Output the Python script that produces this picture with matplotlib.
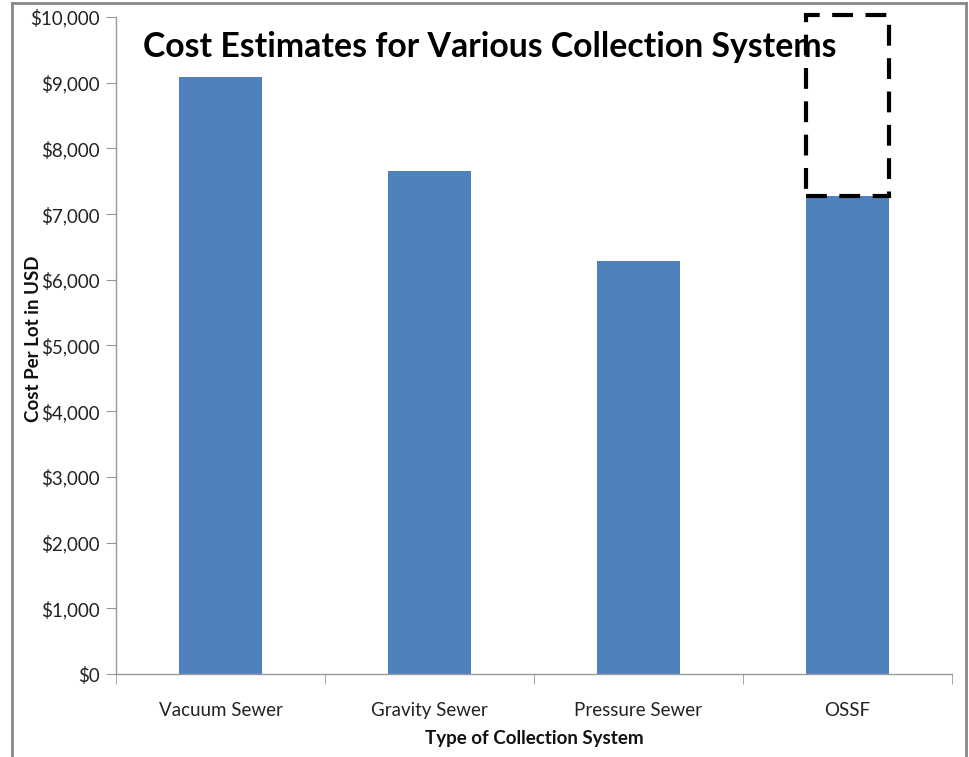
import matplotlib
matplotlib.use("Agg")
import matplotlib.pyplot as plt
from matplotlib.lines import Line2D
from matplotlib.patches import Rectangle
from matplotlib.ticker import FuncFormatter, FixedLocator

plt.rcParams['font.family'] = ['Lato', 'DejaVu Sans']

categories = ["Vacuum Sewer", "Gravity Sewer", "Pressure Sewer", "OSSF"]
costs = [9090, 7650, 6290, 7270]
highlight_top = 10030
title = "Cost Estimates for Various Collection Systems"
xlabel = "Type of Collection System"
ylabel = "Cost Per Lot in USD"

W, H = 969, 757
fig = plt.figure(figsize=(W / 100, H / 100), dpi=100)
ax = fig.add_axes([116 / W, 1 - 674 / H, (952 - 116) / W, (674 - 17) / H])

x = list(range(len(categories)))
bars = ax.bar(x, costs, width=0.4, color="#4F81BD", zorder=2)

ax.set_xlim(-0.5, len(categories) - 0.5)
ax.set_ylim(0, 10000)
ax.yaxis.set_major_locator(FixedLocator(range(0, 10001, 1000)))
ax.yaxis.set_major_formatter(FuncFormatter(lambda v, p: f"${v:,.0f}"))
ax.set_xticks(x)
ax.set_xticklabels(categories)
ax.xaxis.set_minor_locator(FixedLocator([i - 0.5 for i in range(len(categories) + 1)]))
ax.tick_params(axis='x', which='major', length=0, pad=20, labelsize=13.5, labelcolor="#222222")
ax.tick_params(axis='x', which='minor', length=7, color="#999999", direction='out')
ax.tick_params(axis='y', length=7, color="#999999", labelsize=13.5, labelcolor="#222222", pad=5)

for s in ['top', 'right']:
    ax.spines[s].set_visible(False)
for s in ['left', 'bottom']:
    ax.spines[s].set_color("#999999")
    ax.spines[s].set_linewidth(1.0)

ax.set_xlabel(xlabel, fontsize=13.5, fontweight='bold', color="#111111", labelpad=8)
ax.set_ylabel(ylabel, fontsize=13.5, fontweight='bold', color="#111111")
ax.yaxis.set_label_coords(-0.089, 0.511)

# dashed highlight box above OSSF bar
i = len(categories) - 1
ax.add_patch(Rectangle((i - 0.2, costs[i]), 0.4, highlight_top - costs[i],
                       fill=False, edgecolor="black", linewidth=3,
                       linestyle=(0, (5, 3)), clip_on=False, zorder=4))

ax.text(143 / W, 1 - 47 / H, title, transform=fig.transFigure,
        fontsize=24.3, fontweight='bold', color="black", va='center', ha='left', zorder=5)

# outer chart frame
fc = "#888888"
fig.add_artist(Line2D([12 / W, 12 / W], [0, 1 - 3 / H], color=fc, lw=2, transform=fig.transFigure))
fig.add_artist(Line2D([12 / W, 966 / W], [1 - 3 / H, 1 - 3 / H], color=fc, lw=2, transform=fig.transFigure))
fig.add_artist(Line2D([966 / W, 966 / W], [0, 1 - 3 / H], color=fc, lw=2, transform=fig.transFigure))

fig.savefig("out.png", dpi=100)
